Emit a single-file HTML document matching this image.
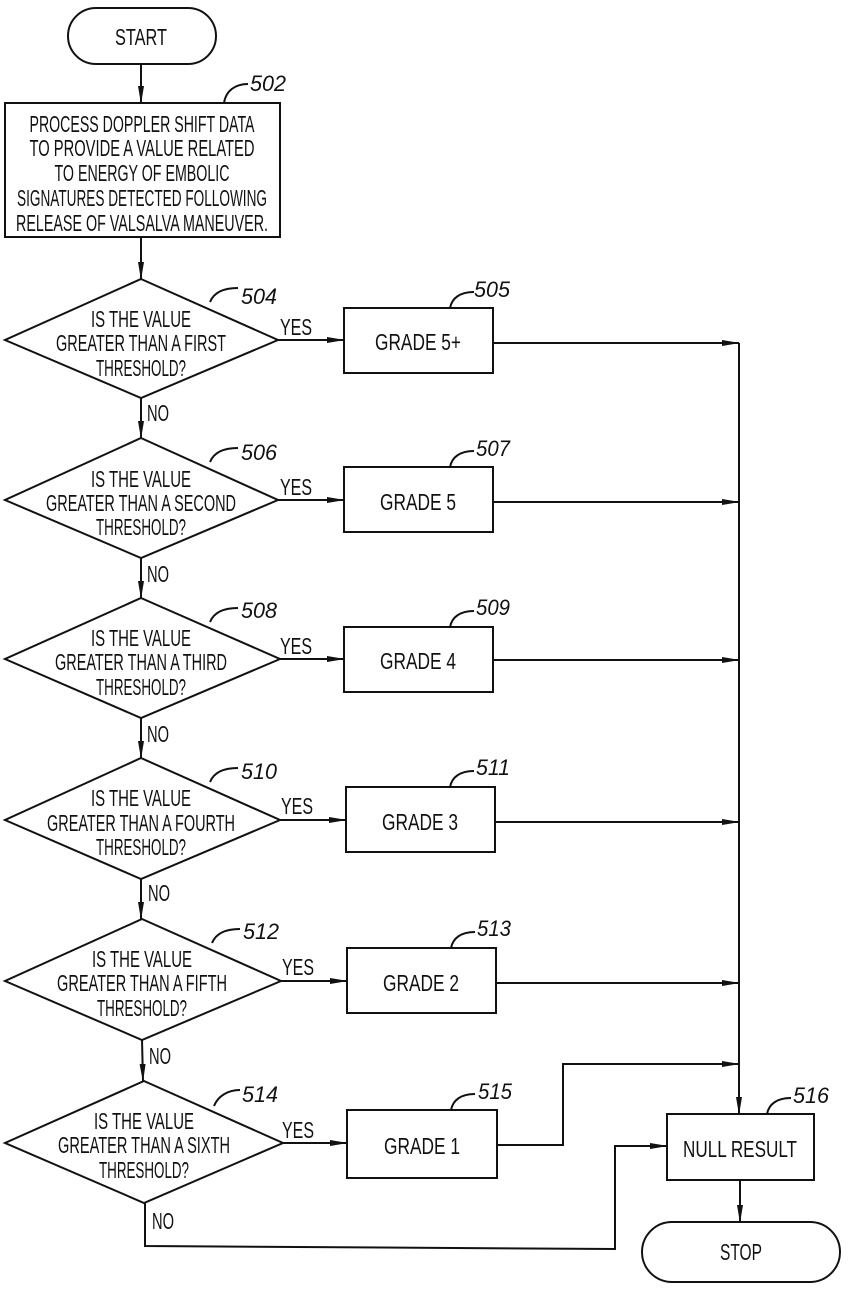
<!DOCTYPE html>
<html><head><meta charset="utf-8"><style>
html,body{margin:0;padding:0;background:#fff;}
svg{display:block;}
text{font-family:"Liberation Sans",sans-serif;fill:#111;}
.t{font-size:23px;text-anchor:middle;}
.s{font-size:23px;text-anchor:middle;}
.n{font-size:22px;font-style:italic;}
</style></head><body>
<svg width="849" height="1297" viewBox="0 0 849 1297" xmlns="http://www.w3.org/2000/svg">
<defs>
<marker id="a" markerWidth="18" markerHeight="8" refX="17" refY="4" orient="auto" markerUnits="userSpaceOnUse">
<path d="M0,1 L18,4 L0,7 Z" fill="#111"/></marker>
</defs>
<g stroke="#111" stroke-width="2" fill="none">
<rect x="68" y="8" width="148" height="56" rx="28"/>
<line x1="141" y1="64" x2="141" y2="103" marker-end="url(#a)"/>
<rect x="5" y="103" width="275" height="134"/>
<line x1="141" y1="237" x2="141" y2="279" marker-end="url(#a)"/>
<path d="M224,103 C226,90 236,84 248,84"/>
</g>
<text class="t" x="142" y="132" textLength="225" lengthAdjust="spacingAndGlyphs">PROCESS DOPPLER SHIFT DATA</text>
<text class="t" x="142" y="156" textLength="225" lengthAdjust="spacingAndGlyphs">TO PROVIDE A VALUE RELATED</text>
<text class="t" x="142" y="181" textLength="175" lengthAdjust="spacingAndGlyphs">TO ENERGY OF EMBOLIC</text>
<text class="t" x="142" y="206" textLength="250" lengthAdjust="spacingAndGlyphs">SIGNATURES DETECTED FOLLOWING</text>
<text class="t" x="142" y="231" textLength="252" lengthAdjust="spacingAndGlyphs">RELEASE OF VALSALVA MANEUVER.</text>
<text class="t" x="141" y="45" textLength="52" lengthAdjust="spacingAndGlyphs">START</text>
<text class="n" x="250" y="91" textLength="36" lengthAdjust="spacingAndGlyphs">502</text>

<g stroke="#111" stroke-width="2" fill="none">
<polygon points="141,279 278,340 141,398 5,340"/>
<line x1="278" y1="340" x2="344" y2="340" marker-end="url(#a)"/>
<rect x="344" y="308" width="149" height="65"/>
<line x1="493" y1="343" x2="739" y2="343" marker-end="url(#a)"/>
<line x1="141" y1="398" x2="141" y2="438" marker-end="url(#a)"/>
<path d="M210,302 C214,292 224,288 238,288"/>
<path d="M450,308 C452,298 460,292 474,292"/>
<polygon points="141,438 278,500 141,558 5,500"/>
<line x1="278" y1="500" x2="344" y2="500" marker-end="url(#a)"/>
<rect x="344" y="467" width="149" height="65"/>
<line x1="493" y1="502" x2="739" y2="502" marker-end="url(#a)"/>
<line x1="141" y1="558" x2="141" y2="598" marker-end="url(#a)"/>
<path d="M210,462 C214,452 224,448 238,448"/>
<path d="M450,467 C452,457 460,451 474,451"/>
<polygon points="141,598 280,659 141,718 5,659"/>
<line x1="280" y1="659" x2="344" y2="659" marker-end="url(#a)"/>
<rect x="344" y="627" width="149" height="65"/>
<line x1="493" y1="660" x2="739" y2="660" marker-end="url(#a)"/>
<line x1="141" y1="718" x2="141" y2="758" marker-end="url(#a)"/>
<path d="M210,622 C214,612 224,608 238,608"/>
<path d="M450,627 C452,617 460,611 474,611"/>
<polygon points="141,758 280,820 141,879 5,820"/>
<line x1="280" y1="820" x2="346" y2="820" marker-end="url(#a)"/>
<rect x="346" y="787" width="149" height="65"/>
<line x1="495" y1="822" x2="739" y2="822" marker-end="url(#a)"/>
<line x1="141" y1="879" x2="141" y2="919" marker-end="url(#a)"/>
<path d="M210,782 C214,772 224,768 238,768"/>
<path d="M450,787 C452,777 460,771 474,771"/>
<polygon points="142,919 281,981 142,1040 5,981"/>
<line x1="281" y1="981" x2="347" y2="981" marker-end="url(#a)"/>
<rect x="347" y="948" width="149" height="65"/>
<line x1="496" y1="983" x2="739" y2="983" marker-end="url(#a)"/>
<line x1="142" y1="1040" x2="143" y2="1081" marker-end="url(#a)"/>
<path d="M212,943 C216,933 226,929 240,929"/>
<path d="M451,948 C453,938 461,932 475,932"/>
<polygon points="144,1081 283,1143 144,1203 5,1143"/>
<line x1="283" y1="1143" x2="347" y2="1143" marker-end="url(#a)"/>
<rect x="347" y="1110" width="150" height="68"/>
<path d="M497,1145 L563,1145 L563,1064 L739,1064" marker-end="url(#a)"/>
<path d="M145,1203 L145,1246 L615,1249 L615,1146 L667,1146" marker-end="url(#a)"/>
<path d="M214,1106 C218,1096 228,1090 240,1090"/>
<path d="M451,1110 C453,1100 461,1094 475,1094"/>
<line x1="739" y1="343" x2="739" y2="1114" marker-end="url(#a)"/>
<rect x="667" y="1114" width="147" height="66"/>
<path d="M767,1114 C769,1104 777,1098 791,1098"/>
<line x1="740" y1="1180" x2="740" y2="1222" marker-end="url(#a)"/>
<rect x="642" y="1222" width="198" height="60" rx="30"/>
</g>

<g>
<text class="s" x="141" y="327" textLength="100" lengthAdjust="spacingAndGlyphs">IS THE VALUE</text>
<text class="s" x="141" y="351" textLength="170" lengthAdjust="spacingAndGlyphs">GREATER THAN A FIRST</text>
<text class="s" x="141" y="376" textLength="90" lengthAdjust="spacingAndGlyphs">THRESHOLD?</text>
<text class="s" x="296" y="335" textLength="32" lengthAdjust="spacingAndGlyphs">YES</text>
<text class="s" x="158" y="421" textLength="22" lengthAdjust="spacingAndGlyphs">NO</text>
<text class="t" x="418" y="350" textLength="86" lengthAdjust="spacingAndGlyphs">GRADE 5+</text>
<text class="n" x="241" y="304" textLength="36" lengthAdjust="spacingAndGlyphs">504</text>
<text class="n" x="474" y="297" textLength="36" lengthAdjust="spacingAndGlyphs">505</text>

<text class="s" x="141" y="487" textLength="100" lengthAdjust="spacingAndGlyphs">IS THE VALUE</text>
<text class="s" x="141" y="511" textLength="190" lengthAdjust="spacingAndGlyphs">GREATER THAN A SECOND</text>
<text class="s" x="141" y="535" textLength="90" lengthAdjust="spacingAndGlyphs">THRESHOLD?</text>
<text class="s" x="296" y="495" textLength="32" lengthAdjust="spacingAndGlyphs">YES</text>
<text class="s" x="158" y="582" textLength="22" lengthAdjust="spacingAndGlyphs">NO</text>
<text class="t" x="418" y="510" textLength="76" lengthAdjust="spacingAndGlyphs">GRADE 5</text>
<text class="n" x="241" y="460" textLength="36" lengthAdjust="spacingAndGlyphs">506</text>
<text class="n" x="476" y="456" textLength="34" lengthAdjust="spacingAndGlyphs">507</text>

<text class="s" x="141" y="646" textLength="100" lengthAdjust="spacingAndGlyphs">IS THE VALUE</text>
<text class="s" x="141" y="670" textLength="172" lengthAdjust="spacingAndGlyphs">GREATER THAN A THIRD</text>
<text class="s" x="141" y="695" textLength="90" lengthAdjust="spacingAndGlyphs">THRESHOLD?</text>
<text class="s" x="296" y="654" textLength="32" lengthAdjust="spacingAndGlyphs">YES</text>
<text class="s" x="158" y="742" textLength="22" lengthAdjust="spacingAndGlyphs">NO</text>
<text class="t" x="418" y="669" textLength="76" lengthAdjust="spacingAndGlyphs">GRADE 4</text>
<text class="n" x="241" y="618" textLength="36" lengthAdjust="spacingAndGlyphs">508</text>
<text class="n" x="476" y="615" textLength="34" lengthAdjust="spacingAndGlyphs">509</text>

<text class="s" x="141" y="806" textLength="100" lengthAdjust="spacingAndGlyphs">IS THE VALUE</text>
<text class="s" x="141" y="831" textLength="188" lengthAdjust="spacingAndGlyphs">GREATER THAN A FOURTH</text>
<text class="s" x="141" y="855" textLength="90" lengthAdjust="spacingAndGlyphs">THRESHOLD?</text>
<text class="s" x="297" y="814" textLength="32" lengthAdjust="spacingAndGlyphs">YES</text>
<text class="s" x="159" y="901" textLength="22" lengthAdjust="spacingAndGlyphs">NO</text>
<text class="t" x="420" y="830" textLength="76" lengthAdjust="spacingAndGlyphs">GRADE 3</text>
<text class="n" x="241" y="779" textLength="36" lengthAdjust="spacingAndGlyphs">510</text>
<text class="n" x="476" y="775" textLength="34" lengthAdjust="spacingAndGlyphs">511</text>

<text class="s" x="142" y="967" textLength="100" lengthAdjust="spacingAndGlyphs">IS THE VALUE</text>
<text class="s" x="142" y="991" textLength="170" lengthAdjust="spacingAndGlyphs">GREATER THAN A FIFTH</text>
<text class="s" x="142" y="1016" textLength="90" lengthAdjust="spacingAndGlyphs">THRESHOLD?</text>
<text class="s" x="298" y="975" textLength="32" lengthAdjust="spacingAndGlyphs">YES</text>
<text class="s" x="160" y="1064" textLength="22" lengthAdjust="spacingAndGlyphs">NO</text>
<text class="t" x="421" y="991" textLength="76" lengthAdjust="spacingAndGlyphs">GRADE 2</text>
<text class="n" x="243" y="939" textLength="36" lengthAdjust="spacingAndGlyphs">512</text>
<text class="n" x="477" y="936" textLength="34" lengthAdjust="spacingAndGlyphs">513</text>

<text class="s" x="144" y="1129" textLength="100" lengthAdjust="spacingAndGlyphs">IS THE VALUE</text>
<text class="s" x="144" y="1153" textLength="172" lengthAdjust="spacingAndGlyphs">GREATER THAN A SIXTH</text>
<text class="s" x="144" y="1178" textLength="90" lengthAdjust="spacingAndGlyphs">THRESHOLD?</text>
<text class="s" x="298" y="1138" textLength="32" lengthAdjust="spacingAndGlyphs">YES</text>
<text class="s" x="163" y="1229" textLength="22" lengthAdjust="spacingAndGlyphs">NO</text>
<text class="t" x="422" y="1154" textLength="76" lengthAdjust="spacingAndGlyphs">GRADE 1</text>
<text class="n" x="242" y="1102" textLength="36" lengthAdjust="spacingAndGlyphs">514</text>
<text class="n" x="478" y="1099" textLength="34" lengthAdjust="spacingAndGlyphs">515</text>

<text class="t" x="740" y="1157" textLength="114" lengthAdjust="spacingAndGlyphs">NULL RESULT</text>
<text class="n" x="793" y="1103" textLength="36" lengthAdjust="spacingAndGlyphs">516</text>
<text class="t" x="741" y="1260" textLength="42" lengthAdjust="spacingAndGlyphs">STOP</text>
</g>
</svg>
</body></html>
